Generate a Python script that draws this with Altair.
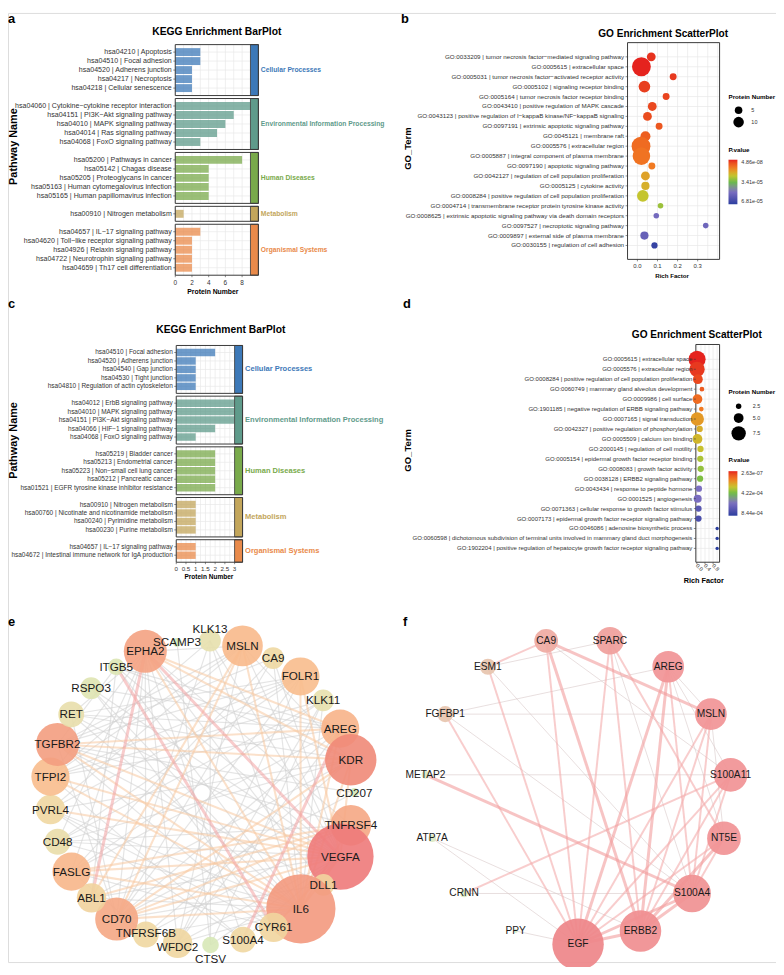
import numpy as np
import pandas as pd
import altair as alt

FONT = "Liberation Sans"
GRID = "#e8e8e8"
FRAME = "#3a3a3a"
TXT = "#333333"

# ---------------- KEGG bar panels (a, c) ----------------
kegg_groups = ["Cellular Processes", "Environmental Information Processing",
               "Human Diseases", "Metabolism", "Organismal Systems"]
kegg_colors = ["#3d79b8", "#5f9b8b", "#79aa4b", "#c3a65b", "#e98a4a"]

a_group_sizes = [5, 5, 5, 1, 5]
a_terms = [
    "hsa04210 | Apoptosis", "hsa04510 | Focal adhesion", "hsa04520 | Adherens junction",
    "hsa04217 | Necroptosis", "hsa04218 | Cellular senescence",
    "hsa04060 | Cytokine−cytokine receptor interaction", "hsa04151 | PI3K−Akt signaling pathway",
    "hsa04010 | MAPK signaling pathway", "hsa04014 | Ras signaling pathway",
    "hsa04068 | FoxO signaling pathway",
    "hsa05200 | Pathways in cancer", "hsa05142 | Chagas disease",
    "hsa05205 | Proteoglycans in cancer", "hsa05163 | Human cytomegalovirus infection",
    "hsa05165 | Human papillomavirus infection",
    "hsa00910 | Nitrogen metabolism",
    "hsa04657 | IL−17 signaling pathway", "hsa04620 | Toll−like receptor signaling pathway",
    "hsa04926 | Relaxin signaling pathway", "hsa04722 | Neurotrophin signaling pathway",
    "hsa04659 | Th17 cell differentiation"]
a_counts = [3, 3, 2, 2, 2, 9, 7, 6, 5, 3, 8, 4, 4, 4, 4, 1, 3, 2, 2, 2, 2]
a_ticks = [0, 2, 4, 6, 8]
a_tick_labels = ["0", "2", "4", "6", "8"]

c_group_sizes = [5, 5, 5, 4, 2]
c_terms = [
    "hsa04510 | Focal adhesion", "hsa04520 | Adherens junction", "hsa04540 | Gap junction",
    "hsa04530 | Tight junction", "hsa04810 | Regulation of actin cytoskeleton",
    "hsa04012 | ErbB signaling pathway", "hsa04010 | MAPK signaling pathway",
    "hsa04151 | PI3K−Akt signaling pathway", "hsa04066 | HIF−1 signaling pathway",
    "hsa04068 | FoxO signaling pathway",
    "hsa05219 | Bladder cancer", "hsa05213 | Endometrial cancer",
    "hsa05223 | Non−small cell lung cancer", "hsa05212 | Pancreatic cancer",
    "hsa01521 | EGFR tyrosine kinase inhibitor resistance",
    "hsa00910 | Nitrogen metabolism", "hsa00760 | Nicotinate and nicotinamide metabolism",
    "hsa00240 | Pyrimidine metabolism", "hsa00230 | Purine metabolism",
    "hsa04657 | IL−17 signaling pathway",
    "hsa04672 | Intestinal immune network for IgA production"]
c_counts = [2, 1, 1, 1, 1, 3, 3, 3, 2, 1, 2, 2, 2, 2, 2, 1, 1, 1, 1, 1, 1]
c_ticks = [0, 0.5, 1, 1.5, 2, 2.5, 3]
c_tick_labels = ["0", "0.5", "1", "1.5", "2", "2.5", "3"]

# ---------------- GO scatter panels (b, d) ----------------
b_terms = [
    "GO:0033209 | tumor necrosis factor−mediated signaling pathway",
    "GO:0005615 | extracellular space",
    "GO:0005031 | tumor necrosis factor−activated receptor activity",
    "GO:0005102 | signaling receptor binding",
    "GO:0005164 | tumor necrosis factor receptor binding",
    "GO:0043410 | positive regulation of MAPK cascade",
    "GO:0043123 | positive regulation of I−kappaB kinase/NF−kappaB signaling",
    "GO:0097191 | extrinsic apoptotic signaling pathway",
    "GO:0045121 | membrane raft",
    "GO:0005576 | extracellular region",
    "GO:0005887 | integral component of plasma membrane",
    "GO:0097190 | apoptotic signaling pathway",
    "GO:0042127 | regulation of cell population proliferation",
    "GO:0005125 | cytokine activity",
    "GO:0008284 | positive regulation of cell population proliferation",
    "GO:0004714 | transmembrane receptor protein tyrosine kinase activity",
    "GO:0008625 | extrinsic apoptotic signaling pathway via death domain receptors",
    "GO:0097527 | necroptotic signaling pathway",
    "GO:0009897 | external side of plasma membrane",
    "GO:0030155 | regulation of cell adhesion"]
b_rich = [0.069, 0.020, 0.178, 0.035, 0.143, 0.074, 0.050, 0.108, 0.040, 0.018,
          0.020, 0.072, 0.040, 0.040, 0.027, 0.115, 0.094, 0.340, 0.035, 0.085]
b_count = [7, 28, 4, 12, 4, 7, 7, 4, 9, 28, 25, 4, 7, 6, 12, 2, 2, 2, 6, 3]
b_pval = [1.4e-6, 4.86e-8, 2.1e-6, 2.8e-6, 3.5e-6, 4.1e-6, 4.8e-6, 6.2e-6, 7.5e-6, 9.6e-6,
          1.1e-5, 1.23e-5, 1.84e-5, 2.05e-5, 2.45e-5, 2.9e-5, 5.1e-5, 5.25e-5, 5.45e-5, 6.6e-5]
b_ticks = [0.0, 0.1, 0.2, 0.3]
b_tick_labels = ["0.0", "0.1", "0.2", "0.3"]
b_pdom = [4.86e-8, 6.81e-5]

d_terms = [
    "GO:0005615 | extracellular space",
    "GO:0005576 | extracellular region",
    "GO:0008284 | positive regulation of cell population proliferation",
    "GO:0060749 | mammary gland alveolus development",
    "GO:0009986 | cell surface",
    "GO:1901185 | negative regulation of ERBB signaling pathway",
    "GO:0007165 | signal transduction",
    "GO:0042327 | positive regulation of phosphorylation",
    "GO:0005509 | calcium ion binding",
    "GO:2000145 | regulation of cell motility",
    "GO:0005154 | epidermal growth factor receptor binding",
    "GO:0008083 | growth factor activity",
    "GO:0038128 | ERBB2 signaling pathway",
    "GO:0043434 | response to peptide hormone",
    "GO:0001525 | angiogenesis",
    "GO:0071363 | cellular response to growth factor stimulus",
    "GO:0007173 | epidermal growth factor receptor signaling pathway",
    "GO:0046086 | adenosine biosynthetic process",
    "GO:0060598 | dichotomous subdivision of terminal units involved in mammary gland duct morphogenesis",
    "GO:1902204 | positive regulation of hepatocyte growth factor receptor signaling pathway"]
d_rich = [0.01, 0.01, 0.05, 0.25, 0.03, 0.22, 0.02, 0.14, 0.03, 0.18,
          0.17, 0.19, 0.16, 0.10, 0.04, 0.08, 0.08, 1.0, 1.0, 1.0]
d_count = [9, 8, 5, 2, 5, 2, 7, 3, 5, 3, 3, 3, 3, 3, 4, 3, 3, 1, 1, 1]
d_pval = [2.63e-7, 2.6e-5, 5.1e-5, 8.5e-5, 1.18e-4, 1.52e-4, 2.1e-4, 2.5e-4, 2.7e-4, 2.95e-4,
          3.38e-4, 3.7e-4, 3.97e-4, 6.08e-4, 6.16e-4, 7.17e-4, 7.6e-4, 8.44e-4, 8.44e-4, 8.44e-4]
d_ticks = [0.0, 0.4, 0.8]
d_tick_labels = ["0.0", "0.4", "0.8"]
d_pdom = [2.63e-7, 8.44e-4]

pv_stops = [0, 0.18, 0.36, 0.5, 0.72, 1.0]
pv_colors = ["#e5231e", "#f17a22", "#c4c52f", "#66bc46", "#7b6fc1", "#2a3e9f"]

# ---------------- network e ----------------
e_nodes = ["KLK13", "MSLN", "CA9", "FOLR1", "KLK11", "AREG", "KDR", "CD207", "TNFRSF4",
           "VEGFA", "DLL1", "IL6", "CYR61", "S100A4", "CTSV", "WFDC2", "TNFRSF6B", "CD70",
           "ABL1", "FASLG", "CD48", "PVRL4", "TFPI2", "TGFBR2", "RET", "RSPO3", "ITGB5",
           "EPHA2", "SCAMP3"]
e_degree = [2, 8, 2, 7, 2, 7, 13, 0, 8, 22, 2, 24, 4, 3, 1, 4, 3, 9, 4, 7, 3, 4, 7, 9,
            3, 2, 1, 9, 0]
e_shade = [0.25, 0.62, 0.40, 0.60, 0.25, 0.66, 0.88, 0.0, 0.72, 1.0, 0.45, 0.80, 0.45,
           0.42, 0.05, 0.43, 0.42, 0.72, 0.46, 0.64, 0.30, 0.42, 0.60, 0.78, 0.28, 0.15,
           0.10, 0.75, 0.0]
e_edges = [
    ("ITGB5", "CYR61", 3), ("EPHA2", "ABL1", 3), ("AREG", "S100A4", 3), ("EPHA2", "VEGFA", 3),
    ("FOLR1", "VEGFA", 2), ("EPHA2", "AREG", 2), ("EPHA2", "KDR", 2), ("EPHA2", "IL6", 2),
    ("TGFBR2", "VEGFA", 2), ("TGFBR2", "IL6", 2), ("TGFBR2", "KDR", 2), ("TGFBR2", "AREG", 2),
    ("TFPI2", "VEGFA", 2), ("TFPI2", "IL6", 2), ("FASLG", "TNFRSF4", 2), ("FASLG", "IL6", 2),
    ("FASLG", "VEGFA", 2), ("CD70", "VEGFA", 2), ("CD70", "TNFRSF4", 2), ("CD70", "IL6", 2),
    ("CD70", "KDR", 2), ("MSLN", "CD70", 2), ("MSLN", "IL6", 2), ("MSLN", "ABL1", 2),
    ("FOLR1", "IL6", 2), ("AREG", "IL6", 2), ("KDR", "IL6", 2), ("VEGFA", "IL6", 2),
    ("TNFRSF4", "IL6", 2), ("ABL1", "TNFRSF4", 2), ("PVRL4", "VEGFA", 2), ("KDR", "VEGFA", 2),
    ("CYR61", "VEGFA", 2),
    ("KLK13", "VEGFA", 1), ("KLK13", "IL6", 1), ("KLK13", "TFPI2", 1), ("KLK13", "CTSV", 1),
    ("KLK13", "CD70", 1), ("MSLN", "KDR", 1), ("MSLN", "TGFBR2", 1), ("MSLN", "WFDC2", 1),
    ("MSLN", "TFPI2", 1), ("MSLN", "VEGFA", 1), ("CA9", "VEGFA", 1), ("CA9", "IL6", 1),
    ("CA9", "TGFBR2", 1), ("CA9", "CD70", 1), ("CA9", "FASLG", 1), ("FOLR1", "TGFBR2", 1),
    ("FOLR1", "WFDC2", 1), ("FOLR1", "TFPI2", 1), ("FOLR1", "CD48", 1), ("FOLR1", "PVRL4", 1),
    ("FOLR1", "RET", 1), ("KLK11", "TFPI2", 1), ("KLK11", "CD48", 1), ("KLK11", "IL6", 1),
    ("KLK11", "CTSV", 1), ("KLK11", "WFDC2", 1), ("KLK11", "FASLG", 1), ("AREG", "CD70", 1),
    ("AREG", "FASLG", 1), ("AREG", "RET", 1), ("AREG", "RSPO3", 1), ("AREG", "ITGB5", 1),
    ("AREG", "TFPI2", 1), ("KDR", "RET", 1), ("KDR", "ITGB5", 1), ("KDR", "CD48", 1),
    ("KDR", "PVRL4", 1), ("KDR", "ABL1", 1), ("CD207", "CD70", 1), ("CD207", "TGFBR2", 1),
    ("TNFRSF4", "TGFBR2", 1), ("TNFRSF4", "TNFRSF6B", 1), ("TNFRSF4", "CD48", 1),
    ("TNFRSF4", "EPHA2", 1), ("VEGFA", "RET", 1), ("VEGFA", "RSPO3", 1), ("VEGFA", "ITGB5", 1),
    ("VEGFA", "ABL1", 1), ("VEGFA", "CD48", 1), ("VEGFA", "WFDC2", 1), ("VEGFA", "CTSV", 1),
    ("VEGFA", "S100A4", 1), ("DLL1", "TGFBR2", 1), ("DLL1", "EPHA2", 1), ("DLL1", "CD70", 1),
    ("IL6", "RET", 1), ("IL6", "RSPO3", 1), ("IL6", "ABL1", 1), ("IL6", "CD48", 1),
    ("IL6", "PVRL4", 1), ("IL6", "TNFRSF6B", 1), ("IL6", "WFDC2", 1), ("IL6", "ITGB5", 1),
    ("CYR61", "RSPO3", 1), ("CYR61", "FASLG", 1), ("CYR61", "PVRL4", 1), ("CYR61", "TGFBR2", 1),
    ("S100A4", "EPHA2", 1), ("S100A4", "TFPI2", 1), ("S100A4", "PVRL4", 1), ("CTSV", "SCAMP3", 1),
    ("WFDC2", "EPHA2", 1), ("TNFRSF6B", "EPHA2", 1), ("TNFRSF6B", "FASLG", 1),
    ("CD70", "EPHA2", 1), ("CD70", "RET", 1), ("CD70", "TGFBR2", 1), ("ABL1", "ITGB5", 1),
    ("FASLG", "EPHA2", 1), ("CD48", "EPHA2", 1), ("PVRL4", "MSLN", 1), ("TFPI2", "EPHA2", 1),
    ("TGFBR2", "ITGB5", 1), ("RET", "EPHA2", 1), ("EPHA2", "MSLN", 1), ("CD70", "FOLR1", 1),
    ("KDR", "TNFRSF6B", 1), ("AREG", "WFDC2", 1)]
e_label_shift = {"KLK13": -12, "CTSV": 14, "WFDC2": 4, "TNFRSF6B": -1}

# ---------------- network f ----------------
f_nodes = ["SPARC", "AREG", "MSLN", "S100A11", "NT5E", "S100A4", "ERBB2", "EGF", "PPY",
           "CRNN", "ATP7A", "METAP2", "FGFBP1", "ESM1", "CA9"]
f_weight = [3.4, 4.5, 4.5, 5.1, 5.1, 6.4, 7.8, 12.0, 0.0, 0.2, 0.2, 0.2, 1.1, 1.1, 2.5]
f_edges = [
    ("EGF", "ERBB2", 3), ("EGF", "S100A4", 3), ("EGF", "AREG", 3), ("ERBB2", "S100A4", 3),
    ("ERBB2", "NT5E", 3), ("ERBB2", "AREG", 3), ("ERBB2", "CA9", 3), ("S100A4", "METAP2", 3),
    ("MSLN", "CA9", 3),
    ("EGF", "NT5E", 2), ("EGF", "S100A11", 2), ("EGF", "MSLN", 2), ("EGF", "SPARC", 2),
    ("EGF", "CA9", 2), ("EGF", "ESM1", 2), ("EGF", "FGFBP1", 2), ("ERBB2", "S100A11", 2),
    ("ERBB2", "MSLN", 2), ("ERBB2", "SPARC", 2), ("S100A4", "AREG", 2), ("S100A4", "MSLN", 2),
    ("S100A4", "NT5E", 2), ("S100A4", "S100A11", 2), ("NT5E", "SPARC", 2),
    ("S100A11", "CRNN", 2), ("CA9", "ESM1", 2),
    ("EGF", "PPY", 1), ("EGF", "ATP7A", 1), ("ERBB2", "ATP7A", 1), ("S100A4", "CRNN", 1),
    ("S100A4", "SPARC", 1), ("S100A4", "ESM1", 1), ("S100A4", "FGFBP1", 1), ("NT5E", "AREG", 1),
    ("NT5E", "MSLN", 1), ("S100A11", "METAP2", 1), ("S100A11", "AREG", 1),
    ("S100A11", "CA9", 1), ("MSLN", "FGFBP1", 1), ("MSLN", "AREG", 1), ("AREG", "FGFBP1", 1),
    ("SPARC", "ESM1", 1)]


# ======================================================================
def lin(dom, rng):
    return alt.Scale(domain=list(dom), range=list(rng), nice=False, zero=False)


def XQ(f, s):
    return alt.X(f, type="quantitative", scale=s, axis=None)


def YQ(f, s):
    return alt.Y(f, type="quantitative", scale=s, axis=None)


def kegg_panel(terms, counts, sizes, x_bar, x_strip, grid_step, ticks, tick_labels,
               xr, yr, lab_fs, cat_fs, tick_fs, tick_gap):
    pad, gap = 0.33, 0.33
    rows, facets = [], []
    cum, k = 0.0, 0
    for g, n in zip(kegg_groups, sizes):
        top = cum
        for i in range(n):
            rows.append(dict(term=terms[k], count=counts[k], group=g, yc=top + pad + i + 0.5))
            k += 1
        bot = top + 2 * pad + n
        facets.append(dict(group=g, top=top, bottom=bot, mid=(top + bot) / 2))
        cum = bot + gap
    total = cum - gap
    upx = (yr[1] - yr[0]) / total
    xpx = (xr[1] - xr[0]) / x_strip
    R = pd.DataFrame(rows)
    R["y0"] = R.yc - 0.44
    R["y1"] = R.yc + 0.44
    R["x0"] = 0.0
    R["xg"] = x_bar
    R["xt"] = -2.0 / xpx
    F = pd.DataFrame(facets)
    F["x0"] = 0.0
    F["xs"] = x_bar
    F["xe"] = x_strip
    gv = np.arange(0, x_bar + 1e-9, grid_step)
    VG = pd.DataFrame([dict(x=v, top=t, bottom=b) for t, b in zip(F.top, F.bottom) for v in gv])
    T = pd.DataFrame(dict(x=ticks, label=tick_labels))
    T["y"] = total
    T["y2"] = total + 2.0 / upx
    T["yl"] = total + tick_gap / upx
    xs = lin([0, x_strip], xr)
    ys = lin([0, total], yr)
    col = alt.Color("group:N", scale=alt.Scale(domain=kegg_groups, range=kegg_colors), legend=None)
    layers = [
        alt.Chart(VG).mark_rule(color=GRID, strokeWidth=0.7).encode(
            x=XQ("x", xs), y=YQ("top", ys), y2="bottom"),
        alt.Chart(R).mark_rule(color=GRID, strokeWidth=0.7).encode(
            x=XQ("x0", xs), x2="xg", y=YQ("yc", ys)),
        alt.Chart(R).mark_rect(opacity=0.75).encode(
            x=XQ("x0", xs), x2="count", y=YQ("y0", ys), y2="y1", color=col),
        alt.Chart(F).mark_rect(stroke=FRAME, strokeWidth=0.8).encode(
            x=XQ("xs", xs), x2="xe", y=YQ("top", ys), y2="bottom", color=col),
        alt.Chart(F).mark_rect(fill="transparent", stroke=FRAME, strokeWidth=1).encode(
            x=XQ("x0", xs), x2="xe", y=YQ("top", ys), y2="bottom"),
        alt.Chart(F).mark_text(align="left", baseline="middle", fontWeight="bold",
                               fontSize=cat_fs, dx=2.5).encode(
            x=XQ("xe", xs), y=YQ("mid", ys), text="group:N", color=col),
        alt.Chart(R).mark_rule(color=FRAME, strokeWidth=0.6).encode(
            x=XQ("xt", xs), x2="x0", y=YQ("yc", ys)),
        alt.Chart(R).mark_text(align="right", baseline="middle", fontSize=lab_fs,
                               color=TXT, dx=-3.5).encode(
            x=XQ("x0", xs), y=YQ("yc", ys), text="term:N"),
        alt.Chart(T).mark_rule(color=FRAME, strokeWidth=0.6).encode(
            x=XQ("x", xs), y=YQ("y", ys), y2="y2"),
        alt.Chart(T).mark_text(baseline="middle", fontSize=tick_fs, color=TXT).encode(
            x=XQ("x", xs), y=YQ("yl", ys), text="label:N"),
    ]
    return alt.layer(*layers)


def go_panel(terms, rich, counts, pvals, xdom, xr, pad_top, pad_bot, yr, grid_vals,
             ticks, tick_labels, tick_angle, size_scale, size_vals, size_fmt, pdom,
             sleg, cleg, lab_fs, tick_fs, tick_gap):
    n = len(terms)
    D = pd.DataFrame(dict(term=terms, rich=rich, count=counts, p=pvals))
    # negated p so that the smallest p-value sits at the top of the vertical gradient
    D["negp"] = -D.p
    D["i"] = np.arange(n)
    D["x0"] = xdom[0]
    D["x1"] = xdom[1]
    ydom = [-pad_top, n - 1 + pad_bot]
    xs = lin(xdom, xr)
    ys = lin(ydom, yr)
    upx = (yr[1] - yr[0]) / (ydom[1] - ydom[0])
    xpx = (xr[1] - xr[0]) / (xdom[1] - xdom[0])
    D["xt"] = xdom[0] - 2.0 / xpx
    G = pd.DataFrame(dict(x=grid_vals))
    G["top"] = ydom[0]
    G["bottom"] = ydom[1]
    Fr = pd.DataFrame(dict(x0=[xdom[0]], x1=[xdom[1]], top=[ydom[0]], bottom=[ydom[1]]))
    T = pd.DataFrame(dict(x=ticks, label=tick_labels))
    T["y"] = ydom[1]
    T["y2"] = ydom[1] + 2.0 / upx
    T["yl"] = ydom[1] + tick_gap / upx
    pmin, pmax = pdom
    # ascending domain on -p : from -pmax (blue end) up to -pmin (red end)
    cdom = [-(pmin + s * (pmax - pmin)) for s in pv_stops[::-1]]
    color = alt.Color("negp:Q", scale=alt.Scale(domain=cdom, range=pv_colors[::-1],
                                                interpolate="lab"),
                      legend=alt.Legend(
                          orient="none", legendX=cleg[0], legendY=cleg[1], title="P.value",
                          direction="vertical", values=[-pmax, -(pmin + pmax) / 2, -pmin],
                          labelExpr="replace(format(-datum.value, '.2e'), 'e-', 'e-0')",
                          gradientLength=45, gradientThickness=9, gradientStrokeWidth=0,
                          titleFontSize=6.3, titleFontWeight="bold", titleColor="black",
                          labelFontSize=5.5, labelColor=TXT, titlePadding=cleg[2],
                          labelOffset=4, padding=0, titleFont=FONT, labelFont=FONT))
    size = alt.Size("count:Q", scale=size_scale,
                    legend=alt.Legend(
                        orient="none", legendX=sleg[0], legendY=sleg[1], title="Protein Number",
                        values=size_vals, format=size_fmt, symbolType="circle",
                        symbolFillColor="black", symbolStrokeWidth=0, symbolOpacity=1,
                        titleFontSize=6.3, titleFontWeight="bold", titleColor="black",
                        labelFontSize=5.5, labelColor=TXT, titlePadding=sleg[2],
                        symbolOffset=sleg[3], labelOffset=sleg[4], rowPadding=sleg[5],
                        padding=0, titleFont=FONT, labelFont=FONT))
    tk_kw = dict(fontSize=tick_fs, color=TXT)
    if tick_angle:
        tk_kw.update(angle=tick_angle, align="left", baseline="middle")
    else:
        tk_kw.update(align="center", baseline="middle")
    layers = [
        alt.Chart(G).mark_rule(color=GRID, strokeWidth=0.7).encode(
            x=XQ("x", xs), y=YQ("top", ys), y2="bottom"),
        alt.Chart(D).mark_rule(color=GRID, strokeWidth=0.7).encode(
            x=XQ("x0", xs), x2="x1", y=YQ("i", ys)),
        alt.Chart(Fr).mark_rect(fill="transparent", stroke=FRAME, strokeWidth=1).encode(
            x=XQ("x0", xs), x2="x1", y=YQ("top", ys), y2="bottom"),
        alt.Chart(D).mark_circle(opacity=1).encode(
            x=XQ("rich", xs), y=YQ("i", ys), size=size, color=color),
        alt.Chart(D).mark_rule(color=FRAME, strokeWidth=0.6).encode(
            x=XQ("xt", xs), x2="x0", y=YQ("i", ys)),
        alt.Chart(D).mark_text(align="right", baseline="middle", fontSize=lab_fs,
                               color=TXT, dx=-3.5).encode(
            x=XQ("x0", xs), y=YQ("i", ys), text="term:N"),
        alt.Chart(T).mark_rule(color=FRAME, strokeWidth=0.6).encode(
            x=XQ("x", xs), y=YQ("y", ys), y2="y2"),
        alt.Chart(T).mark_text(**tk_kw).encode(
            x=XQ("x", xs), y=YQ("yl", ys), text="label:N"),
    ]
    return alt.layer(*layers)


def network(nodes, start_deg, size_val, shade_val, edges, xr, yr, sdom, srng, cdom, crng,
            ecols, ewidths, eop, font_size, node_op, label_shift):
    n = len(nodes)
    ang = np.deg2rad(start_deg + 360.0 * np.arange(n) / n)
    px, py = np.sin(ang), -np.cos(ang)
    pos = {nm: (px[i], py[i]) for i, nm in enumerate(nodes)}
    N = pd.DataFrame(dict(name=nodes, x=px, y=py, v=size_val, s=shade_val))
    upx = (yr[1] - yr[0]) / 2.0
    N["ly"] = N.y + N.name.map(lambda nm: label_shift.get(nm, 0)) / upx
    E = pd.DataFrame([dict(x=pos[a][0], y=pos[a][1], x2=pos[b][0], y2=pos[b][1], w=w)
                      for a, b, w in edges]).sort_values("w", kind="stable")
    xs = lin([-1, 1], xr)
    ys = lin([-1, 1], yr)
    edge_layer = alt.Chart(E).mark_rule(opacity=eop).encode(
        x=XQ("x", xs), y=YQ("y", ys), x2="x2", y2="y2",
        color=alt.Color("w:O", scale=alt.Scale(domain=[1, 2, 3], range=ecols), legend=None),
        strokeWidth=alt.StrokeWidth("w:O", scale=alt.Scale(domain=[1, 2, 3], range=ewidths),
                                    legend=None))
    node_layer = alt.layer(
        alt.Chart(N).mark_circle(opacity=node_op).encode(
            x=XQ("x", xs), y=YQ("y", ys),
            size=alt.Size("v:Q", scale=alt.Scale(domain=sdom, range=srng), legend=None),
            color=alt.Color("s:Q", scale=alt.Scale(domain=cdom, range=crng), legend=None)),
        alt.Chart(N).mark_text(fontSize=font_size, color="#1a1a1a", align="center",
                               baseline="middle").encode(
            x=XQ("x", xs), y=YQ("ly", ys), text="name:N"))
    return edge_layer, node_layer


def note(text, x, y, size, weight="normal", angle=0, align="left", baseline="alphabetic"):
    kw = dict(align=align, baseline=baseline, fontSize=size, fontWeight=weight, color="black")
    if angle:
        kw["angle"] = angle
    return alt.Chart(pd.DataFrame({"t": [text]})).mark_text(**kw).encode(
        x=alt.value(x), y=alt.value(y), text="t:N")


# ======================================================================
panel_a = kegg_panel(a_terms, a_counts, a_group_sizes, 9, 9.95, 1, a_ticks, a_tick_labels,
                     [169, 253], [32, 265], 7.15, 6.8, 6.5, 8)
panel_c = kegg_panel(c_terms, c_counts, c_group_sizes, 3, 3.41, 0.25, c_ticks, c_tick_labels,
                     [170, 237], [336, 555], 6.55, 7.6, 6.3, 6.5)

panel_b = go_panel(b_terms, b_rich, b_count, b_pval, [-0.049, 0.409], [626, 719], 1.43, 1.40,
                   [30, 249], [round(v, 2) for v in np.arange(0, 0.41, 0.05)],
                   b_ticks, b_tick_labels, 0,
                   alt.Scale(type="pow", exponent=1.25, domain=[0, 28], range=[19, 361]),
                   [5, 10], "d", b_pdom, (728, 82, 6, 4.7, 7.4, 2.5), (728, 135, 7),
                   6.3, 6.0, 7)
panel_d = go_panel(d_terms, d_rich, d_count, d_pval, [-0.05, 1.12], [695, 719], 1.49, 1.39,
                   [335, 555], [0, 0.2, 0.4, 0.6, 0.8, 1.0],
                   d_ticks, d_tick_labels, 45,
                   alt.Scale(type="pow", exponent=2, domain=[0, 9], range=[8, 299]),
                   [2.5, 5.0, 7.5], ".1f", d_pdom, (728, 380, 8, 2.75, 6.75, 3),
                   (728, 449, 7.7), 6.1, 5.5, 2.5)

e_edge, e_node = network(
    e_nodes, 3.0, e_degree, e_shade, e_edges, [42, 350], [634, 942], [0, 24], [80, 4900],
    [0, 0.25, 0.45, 0.6, 0.75, 0.88, 1.0],
    ["#d3eabb", "#e7e0ad", "#f1d59f", "#f8bd8d", "#f4a282", "#f08a78", "#ee7a7a"],
    ["#cfcfcf", "#f7c9a0", "#f3a3a3"], [1.2, 3.0, 4.8], 0.55, 11.8, 0.9, e_label_shift)
f_edge, f_node = network(
    f_nodes, 12.0, f_weight, f_weight, f_edges, [421, 731], [631, 941], [0, 12], [16, 2704],
    [0, 0.5, 1.1, 2.5, 4, 12],
    ["#d8eec8", "#dfe0bd", "#e7c4ae", "#efaaa2", "#f19597", "#ee8689"],
    ["#d9c9c9", "#f4abab", "#f29c9c"], [1.0, 3.0, 5.0], 0.6, 10.3, 0.92, {})

notes = [
    note("a", 0, 10, 13, "bold"), note("b", 397, 10, 13, "bold"),
    note("c", 0, 298, 13, "bold"), note("d", 399, 298, 13, "bold"),
    note("e", 0, 619, 13, "bold"), note("f", 399, 619, 13, "bold"),
    note("KEGG Enrichment BarPlot", 211, 19, 10.4, "bold", align="center", baseline="middle"),
    note("KEGG Enrichment BarPlot", 215, 320, 10.4, "bold", align="center", baseline="middle"),
    note("GO Enrichment ScatterPlot", 662, 21, 10.2, "bold", align="center", baseline="middle"),
    note("GO Enrichment ScatterPlot", 696, 325, 10.2, "bold", align="center", baseline="middle"),
    note("Protein Number", 207, 282, 6.9, "bold", align="center", baseline="middle"),
    note("Protein Number", 203, 570, 6.6, "bold", align="center", baseline="middle"),
    note("Rich Factor", 671, 266, 6.2, "bold", align="center", baseline="middle"),
    note("Rich Factor", 703, 574, 7.4, "bold", align="center", baseline="middle"),
    note("Pathway Name", 6.5, 135, 11, "bold", angle=270, align="center", baseline="middle"),
    note("Pathway Name", 6.5, 432, 11, "bold", angle=270, align="center", baseline="middle"),
    note("GO_Term", 404, 137, 9.6, "bold", angle=270, align="center", baseline="middle"),
    note("GO_Term", 404, 442, 9.6, "bold", angle=270, align="center", baseline="middle"),
]

chart = alt.layer(
    panel_a, panel_b, panel_c, panel_d, e_edge, e_node, f_edge, f_node, *notes
).resolve_scale(
    x="independent", y="independent", color="independent", size="independent",
    strokeWidth="independent"
).properties(
    width=776, height=959, padding=0, autosize=alt.AutoSizeParams(type="none")
).configure_view(strokeWidth=0).configure_text(font=FONT).configure(font=FONT)

chart.save("out.html", embed_options={"renderer": "svg", "actions": False})
